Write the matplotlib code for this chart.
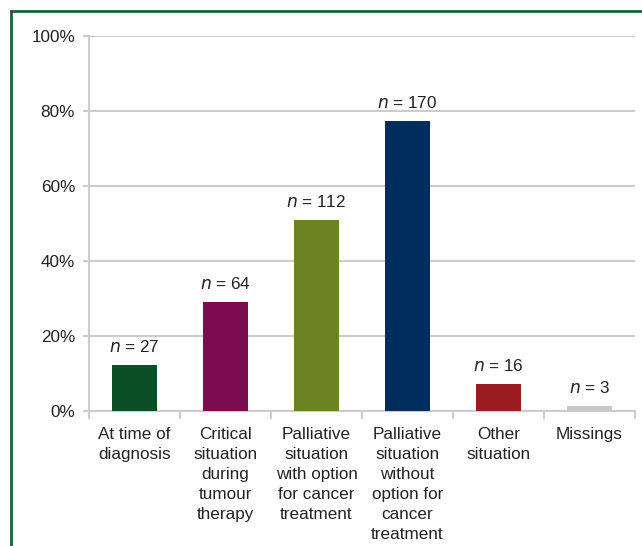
import matplotlib.pyplot as plt
from matplotlib.lines import Line2D

plt.rcParams["font.family"] = ["Liberation Sans", "DejaVu Sans"]

# Situations and share of patients (%) with case counts
categories = [
    "At time of\ndiagnosis",
    "Critical\nsituation\nduring\ntumour\ntherapy",
    "Palliative\nsituation\nwith option\nfor cancer\ntreatment",
    "Palliative\nsituation\nwithout\noption for\ncancer\ntreatment",
    "Other\nsituation",
    "Missings",
]
percent = [12.3, 29.1, 50.9, 77.3, 7.3, 1.4]
counts = [27, 64, 112, 170, 16, 3]
colors = ["#0a4f28", "#7b0c4f", "#6b8426", "#002d5c", "#9a1b20", "#c8c8c8"]
yticks = [0, 20, 40, 60, 80, 100]

fig = plt.figure(figsize=(6.42, 5.46), dpi=100)
ax = fig.add_axes([89 / 642, 1 - 411 / 546, (635 - 89) / 642, 375 / 546])

grid_c = "#cccccc"
txt_c = "#222222"
fs = 12.3
x = range(len(categories))
ax.bar(x, percent, width=0.5, color=colors, zorder=3)
for i, (p, n) in enumerate(zip(percent, counts)):
    ax.text(i, p + 2.6, f"$\\it{{n}}$ = {n}", ha="center", va="bottom",
            fontsize=fs, color=txt_c)

ax.set_xlim(-0.5, len(categories) - 0.5)
ax.set_ylim(0, 100)
ax.set_yticks(yticks)
ax.set_yticklabels([f"{t}%" for t in yticks], fontsize=fs, color=txt_c)
ax.yaxis.grid(True, color=grid_c, linewidth=1.5, zorder=0)

ax.set_xticks(list(x))
ax.set_xticklabels(categories, fontsize=fs, color=txt_c, va="top",
                   linespacing=1.42)
ax.tick_params(axis="x", length=0, pad=11.5)
ax.tick_params(axis="y", length=4, width=1.5, color=grid_c, pad=6)
# tick marks between the categories
ax.set_xticks([i - 0.5 for i in range(len(categories) + 1)], minor=True)
ax.tick_params(axis="x", which="minor", length=6, width=1.5, color=grid_c)

for s in ["top", "right"]:
    ax.spines[s].set_visible(False)
for s in ["left", "bottom"]:
    ax.spines[s].set_color(grid_c)
    ax.spines[s].set_linewidth(1.5)

# green frame along the top and left edges
frame_c = "#1f5f3a"
fig.add_artist(Line2D([11 / 642, 1], [1 - 11 / 546] * 2, color=frame_c,
                      linewidth=2, transform=fig.transFigure))
fig.add_artist(Line2D([11 / 642] * 2, [0, 1 - 11 / 546], color=frame_c,
                      linewidth=2, transform=fig.transFigure))

fig.savefig("out.png", dpi=100)
